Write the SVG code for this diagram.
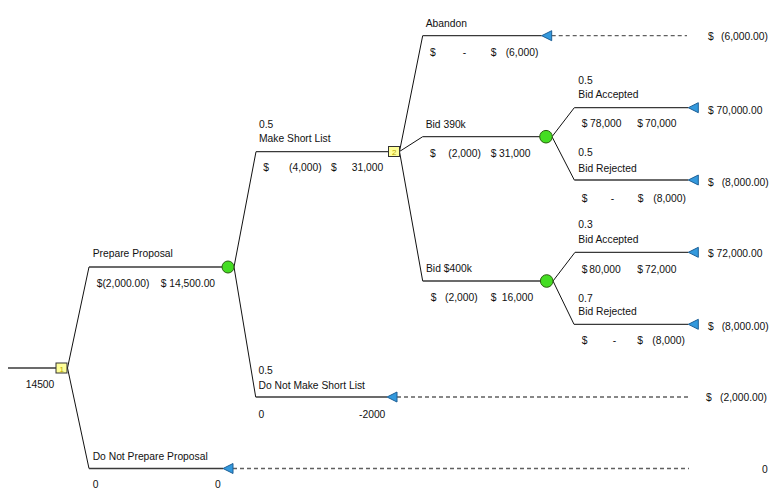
<svg xmlns="http://www.w3.org/2000/svg" width="784" height="498" viewBox="0 0 784 498">
<style>
text{font-family:"Liberation Sans",Arial,sans-serif;font-size:10.3px;fill:#111}
.h{stroke:#3a3a3a;stroke-width:1.3;fill:none}
.d{stroke:#111;stroke-width:1;fill:none}
.dash{stroke:#606060;stroke-width:1.3;stroke-dasharray:4,3;fill:none}
.dec{fill:#ffff99;stroke:#333;stroke-width:1}
.dn{font-size:8px;fill:#b8a800}
.ch{fill:#44dd22;stroke:#2b5e10;stroke-width:1}
.tm{fill:#3399dd;stroke:#1d5f96;stroke-width:1}
</style>
<rect width="784" height="498" fill="#fff"/>
<g id="connectors">
<line class="h" x1="8" y1="368" x2="56" y2="368"/>
<line class="d" x1="67.5" y1="368" x2="89" y2="267"/>
<line class="d" x1="67.5" y1="368" x2="89" y2="468.5"/>
<line class="h" x1="89" y1="267" x2="222" y2="267"/>
<line class="h" x1="89" y1="468.5" x2="223" y2="468.5"/>
<line class="dash" x1="233" y1="468.5" x2="689" y2="468.5"/>
<line class="d" x1="234" y1="267" x2="256" y2="151.7"/>
<line class="d" x1="234" y1="267" x2="255.7" y2="397"/>
<line class="h" x1="256" y1="151.7" x2="388.5" y2="151.7"/>
<line class="h" x1="255.7" y1="397" x2="387" y2="397"/>
<line class="dash" x1="397" y1="397" x2="689" y2="397"/>
<line class="d" x1="399.5" y1="151.5" x2="422.7" y2="35.7"/>
<line class="d" x1="399.5" y1="151.5" x2="422.7" y2="136.7"/>
<line class="d" x1="399.5" y1="151.5" x2="422.7" y2="281"/>
<line class="h" x1="422.7" y1="35.7" x2="541.7" y2="35.7"/>
<line class="dash" x1="551.7" y1="35.7" x2="687" y2="35.7"/>
<line class="h" x1="422.7" y1="136.7" x2="540" y2="136.7"/>
<line class="h" x1="422.7" y1="281" x2="540.5" y2="281"/>
<line class="d" x1="552" y1="136.7" x2="574.3" y2="107.7"/>
<line class="d" x1="552" y1="136.7" x2="574.3" y2="180"/>
<line class="h" x1="574.3" y1="107.7" x2="688.3" y2="107.7"/>
<line class="h" x1="574.3" y1="180" x2="688.3" y2="180"/>
<line class="d" x1="553" y1="281" x2="575" y2="252.3"/>
<line class="d" x1="553" y1="281" x2="574" y2="324.3"/>
<line class="h" x1="575" y1="252.3" x2="688.3" y2="252.3"/>
<line class="h" x1="574" y1="324.3" x2="688.3" y2="324.3"/>
</g>
<g id="root">
<rect class="dec" x="56" y="363" width="11" height="10"/>
<text class="dn" x="59.5" y="371.5">1</text>
<text x="25.7" y="388.3">14500</text>
</g>
<g id="prepare-proposal">
<circle class="ch" cx="228" cy="267" r="6"/>
<text x="92.7" y="257.3">Prepare Proposal</text>
<text x="96.7" y="286.7">$(2,000.00)</text>
<text x="160.7" y="286.7">$ 14,500.00</text>
</g>
<g id="do-not-prepare">
<polygon class="tm" points="223,468.5 233,463.5 233,473.5"/>
<text x="92.7" y="460">Do Not Prepare Proposal</text>
<text x="92.7" y="488">0</text>
<text x="215" y="488">0</text>
<text x="762" y="473">0</text>
</g>
<g id="make-short-list">
<rect class="dec" x="388.5" y="146.5" width="11" height="10"/>
<text class="dn" x="392" y="155">2</text>
<text x="259" y="127.7">0.5</text>
<text x="259" y="141.7">Make Short List</text>
<text x="263.3" y="170.7">$</text>
<text x="289" y="170.7">(4,000)</text>
<text x="331" y="170.7">$</text>
<text x="351.7" y="170.7">31,000</text>
</g>
<g id="do-not-make-short-list">
<polygon class="tm" points="387,397 397,392 397,402"/>
<text x="258.5" y="374">0.5</text>
<text x="258.5" y="388.7">Do Not Make Short List</text>
<text x="258.5" y="418">0</text>
<text x="359" y="418">-2000</text>
<text x="706" y="401">$</text>
<text x="720" y="401">(2,000.00)</text>
</g>
<g id="abandon">
<polygon class="tm" points="541.7,35.7 551.7,30.7 551.7,40.7"/>
<text x="425.7" y="26.7">Abandon</text>
<text x="430" y="56">$</text>
<text x="462.7" y="56">-</text>
<text x="490.7" y="56">$</text>
<text x="505.7" y="56">(6,000)</text>
<text x="708" y="39.5">$</text>
<text x="721" y="39.5">(6,000.00)</text>
</g>
<g id="bid-390k">
<circle class="ch" cx="546" cy="136.7" r="6.3"/>
<text x="425.7" y="127.7">Bid 390k</text>
<text x="430" y="156.7">$</text>
<text x="448.3" y="156.7">(2,000)</text>
<text x="490.7" y="156.7">$</text>
<text x="499" y="156.7">31,000</text>
</g>
<g id="bid-390k-accepted">
<polygon class="tm" points="688.3,107.7 698.3,102.7 698.3,112.7"/>
<text x="578.3" y="84.3">0.5</text>
<text x="578.3" y="98.3">Bid Accepted</text>
<text x="581.7" y="126.7">$</text>
<text x="590" y="126.7">78,000</text>
<text x="637.3" y="126.7">$</text>
<text x="645" y="126.7">70,000</text>
<text x="708" y="113.5">$ 70,000.00</text>
</g>
<g id="bid-390k-rejected">
<polygon class="tm" points="688.3,180 698.3,175 698.3,185"/>
<text x="578.3" y="156">0.5</text>
<text x="578.3" y="171.7">Bid Rejected</text>
<text x="581.7" y="201.7">$</text>
<text x="610.7" y="201.7">-</text>
<text x="637.7" y="201.7">$</text>
<text x="653.3" y="201.7">(8,000)</text>
<text x="708" y="186">$</text>
<text x="721.7" y="186">(8,000.00)</text>
</g>
<g id="bid-400k">
<circle class="ch" cx="546.7" cy="281" r="6.3"/>
<text x="426" y="272.3">Bid $400k</text>
<text x="430.7" y="301">$</text>
<text x="445" y="301">(2,000)</text>
<text x="490.7" y="301">$</text>
<text x="501.7" y="301">16,000</text>
</g>
<g id="bid-400k-accepted">
<polygon class="tm" points="688.3,252.3 698.3,247.3 698.3,257.3"/>
<text x="578.3" y="228.3">0.3</text>
<text x="578.3" y="243.3">Bid Accepted</text>
<text x="581.7" y="272.7">$</text>
<text x="589.3" y="272.7">80,000</text>
<text x="637.3" y="272.7">$</text>
<text x="645" y="272.7">72,000</text>
<text x="708" y="257.3">$ 72,000.00</text>
</g>
<g id="bid-400k-rejected">
<polygon class="tm" points="688.3,324.3 698.3,319.3 698.3,329.3"/>
<text x="578.3" y="301.7">0.7</text>
<text x="578.3" y="315">Bid Rejected</text>
<text x="581.7" y="344">$</text>
<text x="612.7" y="344">-</text>
<text x="637.3" y="344">$</text>
<text x="652.3" y="344">(8,000)</text>
<text x="708" y="330">$</text>
<text x="721.7" y="330">(8,000.00)</text>
</g>
</svg>
